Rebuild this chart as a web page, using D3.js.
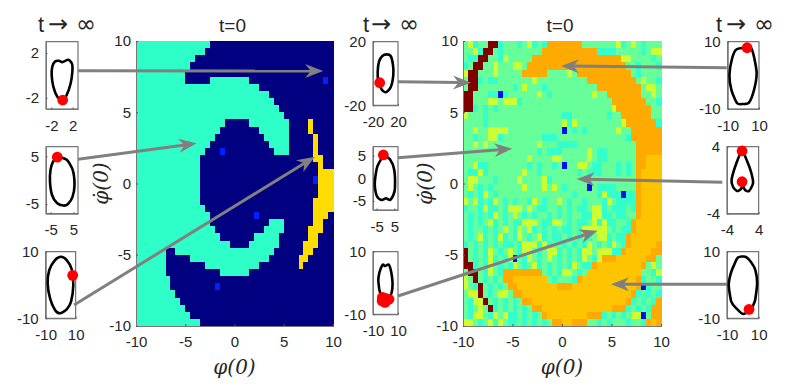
<!DOCTYPE html>
<html>
<head>
<meta charset="utf-8">
<script src="https://cdn.jsdelivr.net/npm/d3@7"></script>
<style>
  body { margin: 0; background: #fff; }
  svg { display: block; font-family: "Liberation Sans", Arial, sans-serif; }
  text { fill: #262626; }
</style>
</head>
<body>
<script>
// basin maps, 40x40, first row is the top of the picture
// one letter per cell, a number in front repeats the letter
// left map: t teal, n navy, y yellow, b blue
const basinLeft = [
  "15t25n", "14t26n", "12t28n", "11t29n", "10t30n",
  "10t5n8t15n1b1n", "25t15n", "27t13n", "28t12n", "29t11n",
  "30t10n", "18t5n8t4n1y4n", "17t8n6t4n1y4n", "16t10n5t5n1y3n", "15t12n4t5n1y3n",
  "14t3n1b10n3t5n1y3n", "13t23n2y2n", "13t24n1y2n", "13t24n3y", "13t23n1b3y",
  "13t24n3y", "13t24n3y", "13t23n4y", "14t22n4y", "15t9n1b11n3y1n",
  "15t12n3t6n2y2n", "16t10n4t5n3y2n", "17t7n5t6n2y3n", "19t4n6t5n3y3n", "6t2n20t6n2y4n",
  "6t5n16t6n2y5n", "6t8n11t8n1y6n", "6t11n6t17n", "7t33n", "7t9n1b23n",
  "8t32n", "9t31n", "10t30n", "11t29n", "13t27n"
];
// right map: g green, c cyan, l lime, o orange, a amber, r dark red, b blue
const basinRightTop = [
  "glcggrrcgggcglcgc7o7glcglgc3g",
  "gglcrrgc8g11o4c5gcg2l",
  "gccrrggclg4g18oll4gcg",
  "cgrrggl3gllg20oggcgggc",
  "lrr3gl5g5o4glg11ogcgggg",
  "grrcgccg6glg9g10oglggc",
  "grr7gcgl3gc10g9ogllg",
  "rrgggccbc6glgc8glgg7ogglg",
  "rr3gllg3lc18g7oggc",
  "rrcgcgc23gl7ogg",
  "lgggcg14gcc7gcgg6ogg",
  "ggggcg14glcl9gl6oc",
  "gglgg4l11gbgcgc6glgg6o",
  "ggcggllcg7g3c14gc6o",
  "gglglg9gl3g4c12g5o",
  "15gcg3c5glgcc6g5o",
  "13gl4gll5glgcc6goo3a",
  "gglcc8gcgcggcgbggllgcc3gcgcgoo3a",
  "gcclc7glggc7gcg3c3gcgcgo4a",
  "gllgggc4gl4glc7gc9go4a"
];
const basinRightBottom = [
  "glgcgcgg4gl3glglgc4gbg4c4go4a",
  "gcgclgcggg12gc4gcl3cbcco4a",
  "lglcgclgcgcggclgcgglgcggcgggclg4co4a",
  "cggclccgc3lglgccggcgcgccgllcgcccgco4a",
  "gcgcgclgcglgcgcggcgcgcggccllccgccggo4a",
  "gcgcglcgcgcc3lgccllgcgccglclccggco5a",
  "gcggcgcglgclglcgcgcgccgclllllgcgcco5a",
  "gcglcgclcgclgcglcgccgcgcgcgllcgcco6a",
  "cgcgcgcgccgc3lclcggcgcgclgcgclgco5ao",
  "rgcgclgcglgcllgcgllcgcgcllg3lcco5aoo",
  "rgcgclcgclbgclgcglgcgcgclgcl3o6aoog",
  "rrcgclgcgclgcglcgcgcgclgcco9aoglg",
  "grrgclgc8ogcgcllgcg11aggcl",
  "lgrgcgcgoo7agcgggco11aocggc",
  "lgcrgcgcgoo8a3o13aobcgg",
  "gllrgcgllgoo22aocgcgc",
  "gcllrgcgcgcgoo19aocgcgco",
  "gcglgrcgcgcgcgoo14a3ocgcgcoo",
  "gcllgclglccgcgcgo8a3ocgcgcgllbgoo",
  "llgcglclgccgcgcgcgooaa3oggcgcgggcggcoao"
];

const basinTicks = [-10, -5, 0, 5, 10];
const basinLimits = [-10, 10];

// attractor orbits, as [phi, dphi]
const orbitA = [[-1.31,1.24],[-0.56,1.3],[0.06,1.18],[1.19,1.39],[1.88,1.03],[1.94,0.34],[1.63,-0.7],[0.88,-1.75],[0.13,-2.25],[-0.88,-1.9],[-1.63,-1],[-1.94,0.05],[-1.81,0.79]];
const orbitB = [[-2.06,4.83],[2.06,4.26],[4.68,2.16],[5.47,-0.99],[4.6,-3.5],[2.62,-4.98],[0.57,-5.3],[-2.19,-4.77],[-4.37,-3.09],[-5.25,-0.36],[-5.03,2.16],[-3.94,3.84]];
const orbitC = [[0.2,8.5],[4,7.5],[7.3,4.8],[8.4,0],[6.9,-5],[4,-7.3],[-0.5,-8.5],[-3.8,-7.5],[-7.1,-4],[-8.7,0.5],[-7.6,4.5],[-3.8,7.5]];
const orbitD = [[1.9,12],[8.3,11],[12,5.3],[12.5,-1],[8.3,-8.7],[0.8,-11.8],[-6.1,-10],[-11.5,-5.1],[-12.5,1.1],[-10.4,7.4],[-5.1,11]];
const orbitE = [[-1.2,5.17],[2.5,4.2],[4.9,1.85],[5.3,-2.1],[4.4,-3.7],[2.5,-4.8],[0.3,-4.4],[-2.1,-4.8],[-4.6,-4.1],[-5.9,-2.1],[-5.9,-0.4],[-4.6,2.6],[-2.1,4.5]];
const orbitF = [[-2.3,5.8],[-0.4,5.4],[2.8,5.8],[5.2,2],[5.5,-1.7],[3.6,-4.4],[-0.4,-6],[-3.9,-3.8],[-5.7,0.4],[-5,3.1]];
const orbitG = [[2.4,8.2],[-4.5,7.7],[-7.2,5],[-8.9,0.1],[-7.6,-4.4],[-4,-8.3],[-0.2,-8.5],[3.6,-8.1],[6.8,-4.4],[8.5,0.6],[6.8,5.5],[5.1,8]];
const orbitH = [[-0.2,3.49],[-1.64,2.02],[-2.85,0.02],[-2.47,-0.81],[-1.46,-1.29],[-0.45,-1.05],[-0.08,-0.57],[0.56,-1.17],[1.57,-1.29],[2.58,-0.33],[2.07,0.98],[1.06,2.29]];
const orbitI = [[-3,8.3],[1.6,8.5],[5,7],[7.9,4.5],[9,0.5],[7.5,-5],[4.4,-7.5],[0.1,-8.7],[-4.1,-7],[-7.3,-5],[-8.9,0],[-7.6,3.5],[-5.1,6.5]];

const statesA = [[0.13,-2.2]];
const statesB = [[-2.06,4.83]];
const statesC = [[8,2.9]];
const statesD = [[-9.3,-5.8]];
const statesE = [[-1.2,5.17]];
const statesF = [[-2.5,-4.6],[2.8,-5.2],[-0.4,-6.2],[-2.7,-5.7],[0.1,-4.9]];
const statesG = [[2.4,8.2]];
const statesH = [[-0.2,3.49],[-0.2,-0.18]];
const statesI = [[3.9,-7.3]];

const colorsLeft = {t: "#2effc9", n: "#000080", y: "#ffdd00", b: "#0020ff"};
const colorsRight = {g: "#66ff99", c: "#33ffcc", l: "#ccff33", o: "#ffaa00", a: "#ffc400", r: "#800000", b: "#0010e8"};

const svg = d3.select("body").append("svg").attr("width", 788).attr("height", 390);

// expand "15t25n" into one letter per cell
function expandRuns(row) {
  return row.replace(/(\d+)([a-z])/g, (m, n, c) => c.repeat(+n));
}

const gray = "#808080";
const fmt = d => String(d);

// one big basin map with its axes
function drawBasin(rows, colors, left, right, top, bottom, labelX) {
  const ix = d3.scaleBand().domain(d3.range(40)).range([left, right]);
  const iy = d3.scaleBand().domain(d3.range(40)).range([top, bottom]);
  const x = d3.scaleLinear().domain(basinLimits).range([left, right]);
  const y = d3.scaleLinear().domain(basinLimits).range([bottom, top]);

  const cells = [];
  rows.forEach((row, r) => {
    expandRuns(row).split("").forEach((v, c) => cells.push({r: r, c: c, v: v}));
  });
  svg.append("g").attr("shape-rendering", "crispEdges").selectAll("rect")
    .data(cells)
    .enter().append("rect")
    .attr("x", d => ix(d.c))
    .attr("y", d => iy(d.r))
    .attr("width", ix.bandwidth() + 0.5)
    .attr("height", iy.bandwidth() + 0.5)
    .attr("fill", d => colors[d.v]);

  svg.append("g")
    .attr("transform", "translate(0," + bottom + ")")
    .call(d3.axisBottom(x).tickValues(basinTicks).tickFormat(fmt).tickSize(-2).tickPadding(10))
    .call(styleAxis);
  svg.append("g")
    .attr("transform", "translate(" + left + ",0)")
    .call(d3.axisLeft(y).tickValues(basinTicks).tickFormat(fmt).tickSize(-2).tickPadding(5))
    .call(styleAxis);

  svg.append("text")
    .attr("x", (left + right) / 2 - 2).attr("y", 32)
    .attr("text-anchor", "middle")
    .style("font-size", "19px")
    .text("t=0");

  mathLabel(svg.append("text")
    .attr("x", (left + right) / 2).attr("y", 374)
    .attr("text-anchor", "middle"), "\u03C6(0)");
  mathLabel(svg.append("text")
    .attr("transform", "translate(" + labelX + "," + (top + bottom) / 2 + ") rotate(-90)")
    .attr("text-anchor", "middle"), "\u03C6\u0307(0)");

  return {x: x, y: y};
}

function mathLabel(sel, str) {
  sel.style("font-family", "'DejaVu Serif', serif")
    .style("font-style", "italic")
    .style("font-size", "20px")
    .text(str);
}

function styleAxis(g) {
  g.selectAll("text").style("font-size", "15px").style("font-family", "'Liberation Sans', Arial, sans-serif").attr("fill", "#262626");
  g.select(".domain").attr("stroke", "#777");
  g.selectAll(".tick line").attr("stroke", "#555");
}

// small inset with one orbit and its end states
function drawInset(orbit, states, lim, xTicks, yTicks, left, right, top, bottom) {
  const x = d3.scaleLinear().domain([-lim, lim]).range([left, right]);
  const y = d3.scaleLinear().domain([-lim, lim]).range([bottom, top]);

  svg.append("rect")
    .attr("x", left).attr("y", top)
    .attr("width", right - left).attr("height", bottom - top)
    .attr("fill", "#fff").attr("stroke", "#555").attr("stroke-width", 1);

  svg.append("g")
    .attr("transform", "translate(0," + bottom + ")")
    .call(d3.axisBottom(x).tickValues(xTicks).tickFormat(fmt).tickSize(-1.5).tickSizeOuter(0).tickPadding(11))
    .call(styleAxis);
  svg.append("g")
    .attr("transform", "translate(" + left + ",0)")
    .call(d3.axisLeft(y).tickValues(yTicks).tickFormat(fmt).tickSize(-1.5).tickSizeOuter(0).tickPadding(7))
    .call(styleAxis);

  const line = d3.line().x(d => x(d[0])).y(d => y(d[1])).curve(d3.curveCardinalClosed.tension(0.3));
  svg.append("path")
    .attr("d", line(orbit))
    .attr("fill", "none").attr("stroke", "#000").attr("stroke-width", 2.6);
  svg.append("g").selectAll("circle")
    .data(states)
    .enter().append("circle")
    .attr("cx", d => x(d[0]))
    .attr("cy", d => y(d[1]))
    .attr("r", 5.4)
    .attr("fill", "#ff0000");

  return {x: x, y: y};
}

// "t" in the text font, the arrow and infinity in a wider math face
function arrowTitle(tx, arrowX, infX) {
  const t = svg.append("text").attr("y", 32);
  t.append("tspan").attr("x", tx).style("font-size", "22px").text("t");
  t.append("tspan").attr("x", arrowX).style("font-family", "'DejaVu Sans', sans-serif").style("font-size", "24px").text("\u2192");
  t.append("tspan").attr("x", infX).style("font-family", "'DejaVu Sans', sans-serif").style("font-size", "24px").text("\u221E");
}

const mapL = drawBasin(basinLeft, colorsLeft, 136, 333, 41, 326, 108);
const mapR = drawBasin(basinRightTop.concat(basinRightBottom), colorsRight, 463, 661, 41, 326, 432);

const a = drawInset(orbitA, statesA, 3, [-2, 2], [-2, 2], 46, 78, 41.7, 109);
const b = drawInset(orbitB, statesB, 7, [-5, 5], [-5, 5], 46, 78, 146.7, 213.7);
const c = drawInset(orbitC, statesC, 10, [-10, 10], [-10, 10], 45.7, 75.7, 251.7, 318.3);
const e = drawInset(orbitD, statesD, 20, [-20, 20], [-20, 20], 373, 398, 41.7, 105.3);
const f = drawInset(orbitE, statesE, 7, [-5, 5], [-5, 0, 5], 373, 398, 146.7, 210);
const h = drawInset(orbitF, statesF, 10, [-10, 10], [-10, 10], 373, 398, 251.7, 314.3);
const k = drawInset(orbitG, statesG, 10, [-10, 10], [-10, 10], 727.7, 759, 41.7, 109);
const m = drawInset(orbitH, statesH, 4, [-4, 4], [-4, 4], 727, 758.7, 146.7, 213.7);
const n = drawInset(orbitI, statesI, 10, [-10, 10], [-10, 10], 727, 758.7, 251.7, 318.3);

arrowTitle(38, 48, 76);
arrowTitle(363, 371, 399);
arrowTitle(716, 726, 754);

// arrows go from a point in an inset to the initial condition on a map
const arrows = [
  {from: a, p: [3, 0.4], to: mapL, q: [9, 7.9]},
  {from: b, p: [7, 4.37], to: mapL, q: [-3.84, 2.82]},
  {from: c, p: [8.9, -6], to: mapL, q: [8.17, 1.88]},
  {from: e, p: [20, -5.2], to: mapR, q: [-9.19, 7.07]},
  {from: f, p: [7, 4.57], to: mapR, q: [-5.02, 2.44]},
  {from: h, p: [10, -4.15], to: mapR, q: [3.6, -3.31]},
  {from: k, p: [-10.6, 2.26], to: mapR, q: [-0.1, 8.25]},
  {from: m, p: [-5.18, -0.25], to: mapR, q: [1.48, 0.32]},
  {from: n, p: [-10, 0.2], to: mapR, q: [4.95, -7.07]}
];

const arrowG = svg.append("g");
arrows.forEach(function(d) {
  const x1 = d.from.x(d.p[0]), y1 = d.from.y(d.p[1]);
  const x2 = d.to.x(d.q[0]), y2 = d.to.y(d.q[1]);
  const angle = Math.atan2(y2 - y1, x2 - x1) * 180 / Math.PI;
  const len = Math.hypot(x2 - x1, y2 - y1);
  const g = arrowG.append("g")
    .attr("transform", "translate(" + x2 + "," + y2 + ") rotate(" + angle + ")");
  g.append("line")
    .attr("x1", -len).attr("y1", 0).attr("x2", -10).attr("y2", 0)
    .attr("stroke", gray).attr("stroke-width", 3);
  g.append("path")
    .attr("d", "M0,0L-18,-7L-12.5,0L-18,7Z")
    .attr("fill", gray);
});
</script>
</body>
</html>
